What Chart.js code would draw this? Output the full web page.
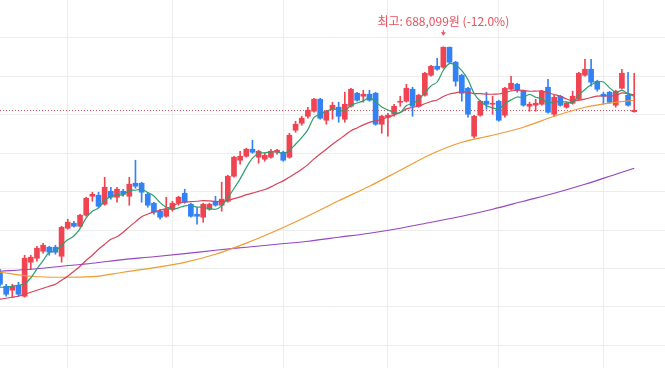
<!DOCTYPE html>
<html><head><meta charset="utf-8">
<script src="https://cdn.jsdelivr.net/npm/chart.js@4.4.0/dist/chart.umd.min.js"></script>
<style>html,body{margin:0;padding:0;background:#fff;overflow:hidden}#wrap{width:665px;height:368px;position:relative}</style>
</head><body><div id="wrap"><canvas id="c" width="665" height="368"></canvas></div>
<script>
// ---- data (KRW) ----
const days = Array.from({length: 109}, (_, i) => 'D' + (i + 1)); // 104 trading days + 5 empty slots
const open = [395100,376900,371700,378200,363900,408100,413300,422400,427600,427600,
415900,452300,458800,454900,469200,493900,495200,483500,500400,492600,
500400,493900,510800,510800,496500,484800,474400,467900,477000,484800,
497800,483500,470500,466600,477000,487400,482200,487400,519900,540700,
545900,555000,544600,542000,544600,551100,551100,544600,579700,588800,
597900,604400,620000,592700,607000,609600,594000,610900,627800,623900,
626500,627800,587500,596600,600500,616100,617400,633000,610900,625200,
651200,662900,661600,687600,668100,651200,634300,571900,599200,617400,
613500,617400,599200,633000,639500,630400,610900,612200,613500,635600,
600500,623900,609600,614800,620000,651200,659000,643400,626500,629100,
612200,634300,625200,603800];
const high = [399000,379500,379500,382100,417200,417200,428900,432800,428900,430200,
454900,464000,461400,470500,492600,499100,499100,518600,505600,505600,
503000,518600,540700,512100,497800,486100,477000,492600,487400,493900,
503000,484800,479600,484800,484800,493900,512100,521200,545900,552400,
556300,566700,553700,549800,555000,555000,552400,575800,591400,597900,
609600,621300,621300,605700,616100,616100,629100,634300,629100,631700,
631700,629100,599200,601800,613500,623900,639500,635600,626500,655100,
664200,673300,688099,687900,669400,652500,635600,599200,618700,629100,
623900,618700,635600,649900,640800,631700,616100,620000,631700,646000,
625200,625200,616100,630400,655100,672000,672000,644700,629100,630400,
631700,659000,655100,653800];
const low = [376900,363900,362600,363900,362600,399000,409400,419800,417200,418500,
408100,451000,453600,453600,467900,487400,479600,482200,490000,486100,
493900,482200,504300,486100,479600,470500,464000,466600,474400,482200,
484800,466600,457500,460100,475700,480900,474400,486100,518600,535500,
544600,549800,536800,539400,543300,548500,539400,543300,577100,586200,
595300,603100,594000,587500,594000,590100,590100,609600,617400,616100,
617400,586200,575800,571900,597900,610900,616100,597900,609600,623900,
649900,657700,660300,666800,636900,617400,596600,569300,597900,607000,
600500,591400,596600,631700,629100,610900,604400,604400,612200,601800,
597900,610900,608300,613500,618700,649900,636900,630400,613500,614800,
609600,633000,610900,603100];
const close = [379500,366500,376900,366500,413300,414600,426300,430200,421100,421100,
453600,460100,454900,469200,491300,496500,480900,505600,492600,503000,
496500,509500,506900,499100,482200,473100,466600,477000,484800,492600,
486100,467900,467900,483500,483500,482200,490000,519900,544600,545900,
555000,551100,552400,547200,552400,553700,540700,573200,587500,595300,
605700,620000,595300,604400,612200,597900,613500,633000,618700,626500,
618700,587500,597900,599200,610900,617400,634300,610900,625200,653800,
662900,659000,687600,668100,643400,627800,600500,597900,617400,613500,
614800,592700,634300,640800,631700,612200,613500,614800,630400,603100,
622600,612200,614800,623900,653800,659000,642100,633000,623900,616100,
630400,653800,612200,605527];
const ma5 = [375600,375600,376900,378200,380500,387600,399500,410200,421100,422700,
430500,437200,442200,451800,465800,474400,478600,488700,493400,495700,
495700,501400,501700,503000,498800,494200,485600,479600,476700,478800,
481400,481700,479900,479600,477800,477000,481400,491800,504000,516500,
531100,543300,549800,550300,551600,551400,549300,553400,561500,570100,
580500,596300,600800,604100,607500,606000,604700,612200,615100,617900,
622100,616900,609900,606000,602800,602600,611900,614500,619700,628300,
637400,642400,657700,666300,664200,657200,645500,627500,617400,611400,
608800,607300,614500,619200,622900,622300,626500,622600,620500,614800,
616900,616600,616600,615300,625500,632700,638700,642400,642400,634800,
629100,631400,627300,623600];
const ma20 = [360000,361300,362600,363900,366500,369100,371700,374300,376900,379500,
384700,389900,396400,402900,410700,417200,425000,431500,438000,441100,
447000,454100,460600,467300,470800,473600,475700,478000,481200,484800,
486400,486800,487400,488200,487800,487000,487500,488200,490800,493000,
495900,497900,500300,502600,506100,510200,513900,518700,523800,529000,
535000,542500,548900,555000,561500,567200,573300,579100,582700,586700,
590000,591800,594000,596600,599600,602700,607400,609300,611200,614200,
617000,619000,623500,626800,628300,629800,629100,627400,627300,626600,
626500,626800,628600,630700,631700,631400,630400,630500,630800,628300,
626200,623900,620300,618100,618700,620100,622200,624000,624300,624400,
624800,628300,627200,625500];
const maDays = [0,5,10,15,20,25,30,35,40,45,50,55,60,65,70,75,80,85,90,95,100,103];
const ma60 = [395100,389900,388600,389300,395100,401000,408000,418500,433000,449700,468200,488000,
506900,527700,548500,564100,573200,583600,597900,609600,616100,618700];
const ma120 = [396400,399000,402900,406800,411500,415200,419300,423700,427600,431500,435400,440600,
445800,452300,460100,467900,477000,487400,497800,509500,522500,530300];
const gridPrices = [300000,350000,400000,450000,500000,550000,600000,650000,700000];
const gridDays = [11,28,46,63,81,98];
const lastPrice = close[close.length - 1];

const RED = '#f04452', BLUE = '#3182f6';
const upDown = c => close[c.dataIndex] >= open[c.dataIndex] ? RED : BLUE;

const overlay = {
  id: 'overlay',
  beforeDatasetsDraw(chart) {
    const {ctx, scales: {x, y}, chartArea} = chart;
    const yy = Math.round(y.getPixelForValue(lastPrice)) + 0.5;
    const xEnd = x.getPixelForValue(close.length - 1) + 4;
    ctx.save();
    ctx.strokeStyle = '#e0505c';
    ctx.lineWidth = 1;
    ctx.setLineDash([1, 2]);
    ctx.beginPath(); ctx.moveTo(chartArea.left, yy); ctx.lineTo(xEnd, yy); ctx.stroke();
    ctx.restore();
  },
  afterDatasetsDraw(chart) {
    const {ctx, scales: {x, y}} = chart;
    const maxHigh = Math.max(...high);
    const idx = high.indexOf(maxHigh);
    const px = x.getPixelForValue(idx);
    const py = y.getPixelForValue(maxHigh);
    const pct = ((lastPrice / maxHigh - 1) * 100).toFixed(1);
    ctx.save();
    ctx.fillStyle = '#e8505b';
    ctx.font = '12px "Noto Sans CJK KR", "Noto Sans", sans-serif';
    ctx.textAlign = 'center';
    ctx.textBaseline = 'alphabetic';
    ctx.fillText('최고: ' + maxHigh.toLocaleString('en-US') + '원 (' + pct + '%)', px, py - 21);
    ctx.beginPath();
    ctx.moveTo(px - 2.5, py - 14.5); ctx.lineTo(px + 2.5, py - 14.5); ctx.lineTo(px, py - 11); ctx.closePath();
    ctx.fill();
    ctx.fillRect(px - 0.5, py - 17, 1, 3);
    ctx.restore();
  }
};

new Chart(document.getElementById('c'), {
  type: 'bar',
  data: {
    labels: days,
    datasets: [
      {type: 'line', label: 'MA5', data: ma5, borderColor: '#2e9e6e', borderWidth: 1.2, pointRadius: 0, tension: 0.3, order: 0},
      {type: 'line', label: 'MA20', data: ma20, borderColor: '#d9435a', borderWidth: 1.2, pointRadius: 0, tension: 0.3, order: 0},
      {type: 'line', label: 'MA60', data: maDays.map((d, i) => ({x: days[d], y: ma60[i]})), borderColor: '#f29a32', borderWidth: 1.2, pointRadius: 0, cubicInterpolationMode: 'monotone', order: 0},
      {type: 'line', label: 'MA120', data: maDays.map((d, i) => ({x: days[d], y: ma120[i]})), borderColor: '#9646bf', borderWidth: 1.2, pointRadius: 0, cubicInterpolationMode: 'monotone', order: 0},
      {label: 'wick', data: low.map((l, i) => [l, high[i]]), backgroundColor: upDown, barThickness: 1, grouped: false, order: 2, minBarLength: 1},
      {label: 'body', data: open.map((o, i) => [o, close[i]]), backgroundColor: upDown, barThickness: 5, grouped: false, order: 1, minBarLength: 1}
    ]
  },
  options: {
    responsive: false,
    animation: false,
    devicePixelRatio: 1,
    layout: {padding: 0},
    plugins: {legend: {display: false}, tooltip: {enabled: false}},
    scales: {
      x: {
        type: 'category', offset: false,
        grid: {offset: false, color: '#ededed', drawTicks: false},
        border: {display: false},
        ticks: {display: false},
        afterBuildTicks: s => { s.ticks = gridDays.map(v => ({value: v})); }
      },
      y: {
        min: 270600, max: 749000,
        grid: {color: '#ededed', drawTicks: false},
        border: {display: false},
        ticks: {display: false},
        afterBuildTicks: s => { s.ticks = gridPrices.map(v => ({value: v})); }
      }
    }
  },
  plugins: [overlay]
});
</script>
</body></html>
